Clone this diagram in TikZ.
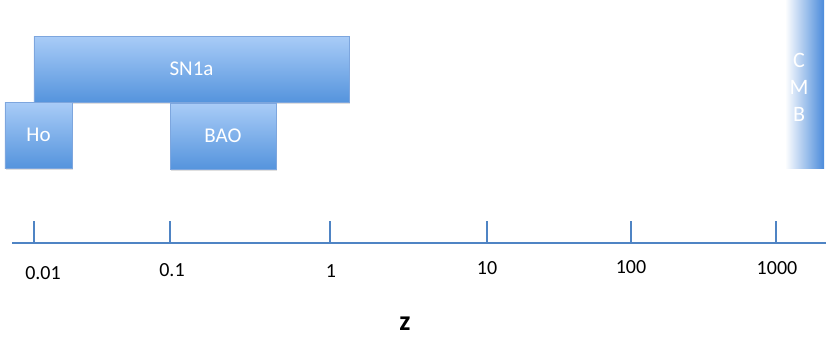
\documentclass[tikz,border=0pt]{standalone}
\usepackage{fontspec}
\setmainfont{Carlito}
\usetikzlibrary{shadows}
\definecolor{boxtop}{HTML}{A9CCF7}
\definecolor{boxbot}{HTML}{5594DD}
\definecolor{boxline}{HTML}{7DA6DE}
\definecolor{axisblue}{HTML}{4F84C4}
\definecolor{cmbblue}{HTML}{4B8BDB}

\begin{document}
\begin{tikzpicture}[
  x=1bp, y=-1bp,
  obsbox/.style  = {draw=boxline, line width=0.8bp, top color=boxtop, bottom color=boxbot,
                    text=white, font=\fontsize{21bp}{24bp}\selectfont, inner sep=0pt,
                    drop shadow={opacity=0.25, shadow xshift=1bp, shadow yshift=-2bp}},
  axisline/.style = {draw=axisblue, line width=2.6bp},
  tickline/.style = {draw=axisblue, line width=1.8bp},
  ticklabel/.style= {font=\fontsize{20bp}{22bp}\selectfont, inner sep=0pt},
]
\useasboundingbox (0,0) rectangle (830,337);
% observations
\node[obsbox, minimum width=315bp, minimum height=66bp] (sn)  at (191.5,69) {SN1a};
\node[obsbox, minimum width=67bp,  minimum height=66bp] (ho)  at (38.5,135) {Ho};
\node[obsbox, minimum width=106bp, minimum height=66bp] (bao) at (223,136)  {BAO};
\node[left color=white, right color=cmbblue, minimum width=39bp, minimum height=168bp,
      inner sep=0pt] (cmb) at (804.5,84) {};
\node[text=white, align=center, inner sep=0pt,
      font=\fontsize{22bp}{27bp}\selectfont] (cmblab) at (799,87) {C\\M\\B};
% redshift axis
\coordinate (axl) at (12,243);
\coordinate (axr) at (826,243);
\draw[axisline] (axl) -- (axr);
\foreach \x/\lx/\ly/\l [count=\i] in {34/43/273/0.01, 170/172/270/0.1, 330/331/271/1,
                            487/487/268/10, 631/631/267/100, 776/777/268/1000} {
  \coordinate (t\i) at (\x,221);
  \draw[tickline] (t\i) -- (\x,243);
  \node[ticklabel] (l\i) at (\lx,\ly) {\l};
}
\node[font=\bfseries\fontsize{28bp}{30bp}\selectfont, inner sep=0pt, anchor=base]
     (zlab) at (405,330) {z};
\end{tikzpicture}
\end{document}
